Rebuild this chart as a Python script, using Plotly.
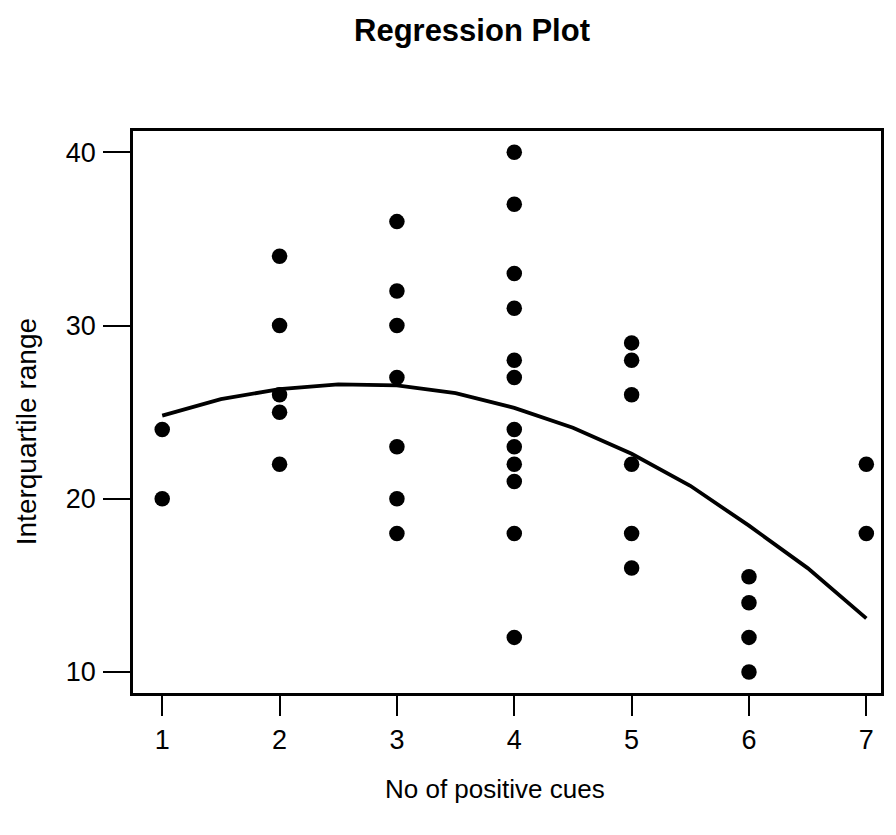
import plotly.graph_objects as go

# Data
cues = [1, 1,
        2, 2, 2, 2, 2,
        3, 3, 3, 3, 3, 3, 3,
        4, 4, 4, 4, 4, 4, 4, 4, 4, 4, 4, 4,
        5, 5, 5, 5, 5, 5,
        6, 6, 6, 6,
        7, 7]
iqr = [24, 20,
       34, 30, 26, 25, 22,
       36, 32, 30, 27, 23, 20, 18,
       40, 37, 33, 31, 28, 27, 24, 23, 22, 21, 18, 12,
       29, 28, 26, 22, 18, 16,
       15.5, 14, 12, 10,
       22, 18]

# Fitted (quadratic) regression curve
fit_x = [1, 1.5, 2, 2.5, 3, 3.5, 4, 4.5, 5, 5.5, 6, 6.5, 7]
fit_y = [24.8, 25.75, 26.33, 26.6, 26.55, 26.1, 25.25, 24.1, 22.6, 20.75, 18.45, 16.0, 13.1]

x_ticks = [1, 2, 3, 4, 5, 6, 7]
y_ticks = [10, 20, 30, 40]

FONT = "Liberation Sans, Arial, sans-serif"

fig = go.Figure()
fig.add_trace(go.Scatter(x=fit_x, y=fit_y, mode="lines",
                         line=dict(color="black", width=3.8),
                         hoverinfo="skip", showlegend=False))
fig.add_trace(go.Scatter(x=cues, y=iqr, mode="markers",
                         marker=dict(color="black", size=15.5, line=dict(width=0)),
                         showlegend=False))

fig.update_layout(
    width=880, height=819, autosize=False,
    margin=dict(l=125, r=4, t=123, b=134),
    paper_bgcolor="white", plot_bgcolor="white",
    font=dict(family=FONT, color="black"),
    xaxis=dict(range=[0.751, 7.125], tickvals=x_ticks, ticktext=[str(v) for v in x_ticks],
               showgrid=False, zeroline=False, showline=True, mirror=True,
               linecolor="black", linewidth=2.5,
               ticks="outside", ticklen=20, tickwidth=2, tickcolor="black",
               tickfont=dict(size=27, family=FONT), ticklabelstandoff=1),
    yaxis=dict(range=[8.79, 41.23], tickvals=y_ticks, ticktext=[str(v) for v in y_ticks],
               showgrid=False, zeroline=False, showline=True, mirror=True,
               linecolor="black", linewidth=2.5,
               ticks="outside", ticklen=27, tickwidth=2, tickcolor="black",
               tickfont=dict(size=27, family=FONT), ticklabelstandoff=2),
    annotations=[
        dict(text="<b>Regression Plot</b>", xref="paper", yref="paper",
             x=0.4527, y=1, yshift=101, xanchor="center", yanchor="middle",
             showarrow=False, font=dict(size=31, family=FONT)),
        dict(text="No of positive cues", xref="paper", yref="paper",
             x=0.484, y=0, yshift=-96, xanchor="center", yanchor="middle",
             showarrow=False, font=dict(size=26, family=FONT)),
        dict(text="Interquartile range", xref="paper", yref="paper",
             x=0, xshift=-107, y=0.464, xanchor="center", yanchor="middle",
             textangle=-90, showarrow=False, font=dict(size=28, family=FONT)),
    ],
)

fig.write_html("out.html")
